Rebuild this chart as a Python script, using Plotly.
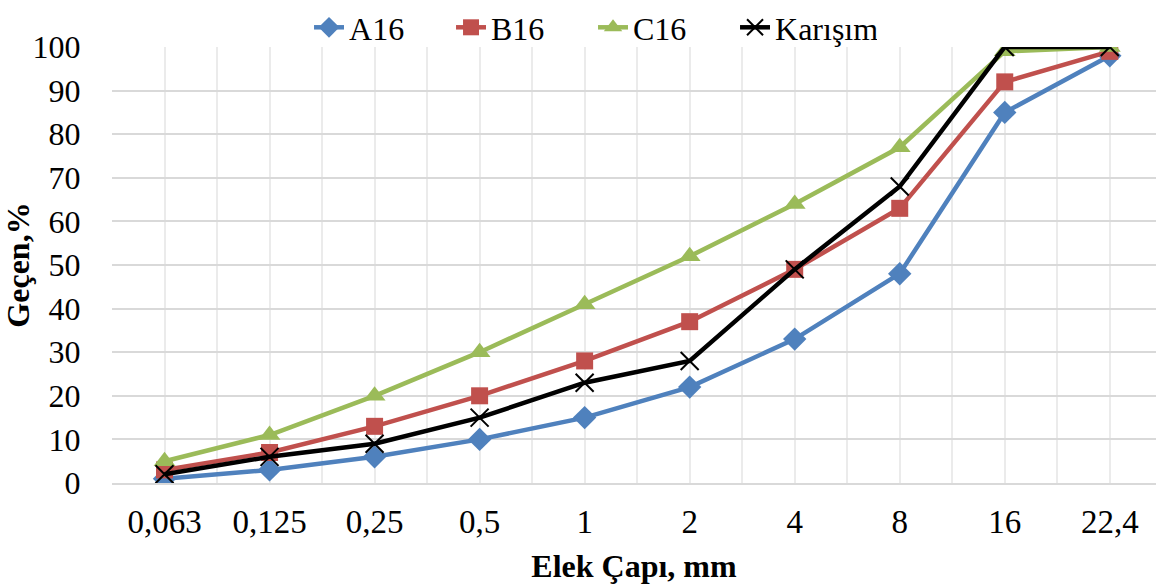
import plotly.graph_objects as go

categories = ["0,063", "0,125", "0,25", "0,5", "1", "2", "4", "8", "16", "22,4"]
a16 = [1, 3, 6, 10, 15, 22, 33, 48, 85, 98]
b16 = [3, 7, 13, 20, 28, 37, 49, 63, 92, 99]
c16 = [5, 11, 20, 30, 41, 52, 64, 77, 99, 100]
karisim = [2, 6, 9, 15, 23, 28, 49, 68, 100, 100]

series = [
    ("A16", a16, "#4F81BD", "diamond", 18),
    ("B16", b16, "#C0504D", "square", 17),
    ("C16", c16, "#9BBB59", "triangle-up", 19),
    ("Karışım", karisim, "#000000", "x-thin", 18),
]

x = list(range(len(categories)))
fig = go.Figure()
for name, vals, col, sym, sz in series:
    marker = dict(symbol=sym, size=sz, color=col)
    if sym == "x-thin":
        marker["line"] = dict(color=col, width=2)
    fig.add_trace(go.Scatter(
        x=x, y=vals, name=name, mode="lines+markers",
        line=dict(color=col, width=4.5), marker=marker,
    ))

font = "Liberation Serif, Times New Roman, serif"
fig.update_layout(
    width=1156, height=588,
    margin=dict(l=112, r=0, t=47, b=105, autoexpand=False),
    plot_bgcolor="white", paper_bgcolor="white",
    font=dict(family=font, size=32, color="black"),
    showlegend=True,
    legend=dict(orientation="h", xref="container", yref="container",
                x=0.513, xanchor="center", y=1.0, yanchor="top",
                font=dict(size=32), tracegroupgap=0,
                entrywidth=97, entrywidthmode="pixels",
                bgcolor="rgba(0,0,0,0)"),
    xaxis=dict(
        range=[-0.5, 9.44], tickvals=x, ticktext=categories,
        showgrid=True, gridcolor="#EBEBEB", gridwidth=1.5,
        minor=dict(tickvals=[i + 0.5 for i in range(-1, 10)], showgrid=True,
                   gridcolor="#EBEBEB", gridwidth=1.5),
        showline=True, linecolor="#D9D9D9", linewidth=2,
        ticks="outside", ticklen=8, tickcolor="rgba(0,0,0,0)",
        zeroline=False, tickfont=dict(size=33),
        title=dict(text="<b>Elek Çapı, mm</b>", font=dict(size=32), standoff=16),
    ),
    yaxis=dict(
        range=[0, 100], dtick=10,
        showgrid=True, gridcolor="#D9D9D9", gridwidth=2,
        zeroline=False, showline=False,
        ticks="outside", ticklen=24, tickcolor="rgba(0,0,0,0)",
        tickfont=dict(size=32),
        title=dict(text="<b>Geçen,%</b>", font=dict(size=32), standoff=2),
    ),
)

fig.write_html("out.html", config={"displayModeBar": False},
               post_script="document.body.style.margin='0px';")
